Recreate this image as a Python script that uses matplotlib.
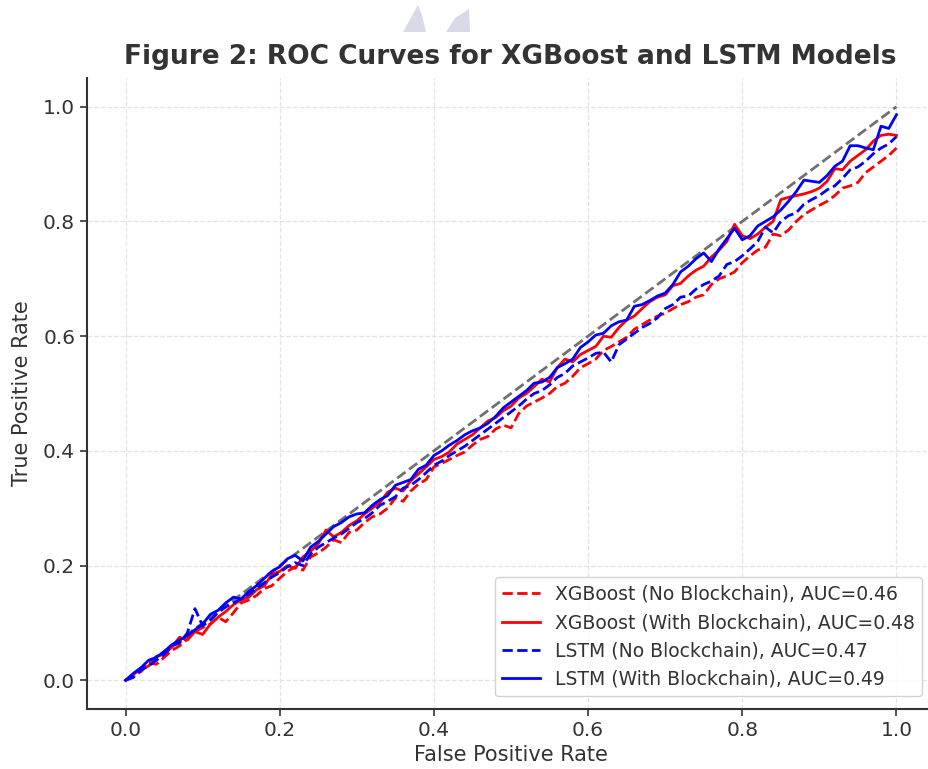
import numpy as np
import matplotlib
matplotlib.use("Agg")
import matplotlib.pyplot as plt
from matplotlib.patches import Polygon

# ---------------- data ----------------
fpr = np.round(np.linspace(0, 1, 101), 2)

xgb_no_bc = [
    0.000, 0.008, 0.015, 0.030, 0.028, 0.040, 0.052, 0.060, 0.072, 0.085,
    0.092, 0.098, 0.110, 0.102, 0.118, 0.135, 0.140, 0.148, 0.160, 0.165,
    0.178, 0.190, 0.198, 0.192, 0.215, 0.222, 0.232, 0.245, 0.240, 0.258,
    0.262, 0.275, 0.285, 0.290, 0.300, 0.318, 0.312, 0.330, 0.342, 0.350,
    0.372, 0.378, 0.385, 0.392, 0.398, 0.410, 0.420, 0.425, 0.438, 0.445,
    0.440, 0.465, 0.478, 0.485, 0.492, 0.500, 0.512, 0.518, 0.530, 0.545,
    0.552, 0.560, 0.575, 0.582, 0.590, 0.598, 0.612, 0.620, 0.628, 0.635,
    0.640, 0.648, 0.655, 0.660, 0.668, 0.672, 0.690, 0.700, 0.705, 0.712,
    0.728, 0.740, 0.750, 0.755, 0.778, 0.775, 0.785, 0.800, 0.812, 0.820,
    0.828, 0.835, 0.845, 0.858, 0.862, 0.868, 0.885, 0.895, 0.905, 0.915,
    0.928,
]
xgb_with_bc = [
    0.000, 0.010, 0.020, 0.025, 0.042, 0.045, 0.058, 0.075, 0.070, 0.085,
    0.080, 0.098, 0.110, 0.120, 0.132, 0.140, 0.145, 0.158, 0.165, 0.185,
    0.190, 0.200, 0.195, 0.215, 0.225, 0.238, 0.262, 0.250, 0.258, 0.270,
    0.278, 0.290, 0.300, 0.310, 0.328, 0.335, 0.330, 0.348, 0.360, 0.372,
    0.385, 0.390, 0.398, 0.412, 0.420, 0.428, 0.440, 0.452, 0.458, 0.470,
    0.478, 0.492, 0.500, 0.512, 0.525, 0.520, 0.545, 0.560, 0.555, 0.568,
    0.575, 0.582, 0.600, 0.598, 0.615, 0.628, 0.635, 0.648, 0.660, 0.668,
    0.672, 0.688, 0.692, 0.705, 0.715, 0.722, 0.738, 0.750, 0.765, 0.795,
    0.775, 0.770, 0.778, 0.790, 0.800, 0.838, 0.842, 0.845, 0.848, 0.852,
    0.858, 0.870, 0.892, 0.890, 0.905, 0.915, 0.925, 0.940, 0.950, 0.952,
    0.950,
]
lstm_no_bc = [
    0.000, 0.005, 0.018, 0.025, 0.035, 0.045, 0.060, 0.065, 0.082, 0.125,
    0.095, 0.105, 0.118, 0.128, 0.135, 0.142, 0.150, 0.160, 0.170, 0.180,
    0.188, 0.198, 0.205, 0.200, 0.220, 0.232, 0.240, 0.248, 0.255, 0.265,
    0.275, 0.282, 0.292, 0.305, 0.312, 0.320, 0.335, 0.340, 0.350, 0.362,
    0.375, 0.382, 0.392, 0.400, 0.408, 0.418, 0.428, 0.438, 0.448, 0.458,
    0.468, 0.478, 0.490, 0.500, 0.505, 0.515, 0.528, 0.535, 0.548, 0.555,
    0.562, 0.570, 0.572, 0.555, 0.585, 0.595, 0.605, 0.615, 0.622, 0.632,
    0.648, 0.655, 0.668, 0.670, 0.682, 0.690, 0.696, 0.705, 0.725, 0.730,
    0.740, 0.752, 0.765, 0.790, 0.780, 0.800, 0.810, 0.815, 0.830, 0.838,
    0.845, 0.855, 0.862, 0.875, 0.890, 0.895, 0.905, 0.918, 0.928, 0.935,
    0.948,
]
lstm_with_bc = [
    0.000, 0.012, 0.022, 0.035, 0.040, 0.050, 0.062, 0.070, 0.078, 0.088,
    0.098, 0.115, 0.122, 0.135, 0.145, 0.142, 0.155, 0.165, 0.178, 0.190,
    0.198, 0.212, 0.218, 0.208, 0.232, 0.242, 0.255, 0.268, 0.275, 0.285,
    0.290, 0.292, 0.305, 0.315, 0.322, 0.340, 0.345, 0.350, 0.368, 0.375,
    0.392, 0.400, 0.410, 0.418, 0.428, 0.435, 0.440, 0.448, 0.460, 0.475,
    0.485, 0.495, 0.505, 0.518, 0.520, 0.528, 0.545, 0.552, 0.560, 0.580,
    0.590, 0.602, 0.605, 0.618, 0.625, 0.628, 0.652, 0.655, 0.662, 0.670,
    0.675, 0.690, 0.712, 0.722, 0.735, 0.745, 0.730, 0.752, 0.770, 0.788,
    0.768, 0.775, 0.792, 0.800, 0.808, 0.820, 0.835, 0.852, 0.872, 0.870,
    0.868, 0.880, 0.896, 0.905, 0.932, 0.932, 0.928, 0.925, 0.966, 0.962,
    0.986,
]

series_labels = [
    "XGBoost (No Blockchain), AUC=0.46",
    "XGBoost (With Blockchain), AUC=0.48",
    "LSTM (No Blockchain), AUC=0.47",
    "LSTM (With Blockchain), AUC=0.49",
]
series_values = [xgb_no_bc, xgb_with_bc, lstm_no_bc, lstm_with_bc]
series_colors = ["red", "red", "blue", "blue"]
series_styles = ["--", "-", "--", "-"]

diag = [0.0, 1.0]
xticks = [0.0, 0.2, 0.4, 0.6, 0.8, 1.0]
yticks = [0.0, 0.2, 0.4, 0.6, 0.8, 1.0]

title = "Figure 2: ROC Curves for XGBoost and LSTM Models"
xlabel = "False Positive Rate"
ylabel = "True Positive Rate"

# ---------------- plot ----------------
TXT = "#333333"
plt.rcParams["font.family"] = ["DejaVu Sans"]

W, H = 929, 769
fig = plt.figure(figsize=(W / 100, H / 100), dpi=100)
ax = fig.add_axes([87 / W, 1 - 709 / H, 848 / W, 631 / H])

ax.plot(diag, diag, linestyle="--", color="#707070", lw=2.0, zorder=2)
for vals, lab, col, ls in zip(series_values, series_labels, series_colors, series_styles):
    ax.plot(fpr, vals, linestyle=ls, color=col, lw=2.0, label=lab, zorder=3)

ax.set_xlim(-0.05, 1.05)
ax.set_ylim(-0.05, 1.05)
ax.set_xticks(xticks)
ax.set_yticks(yticks)
ax.tick_params(labelsize=14.5, colors=TXT, length=5, width=1.2)
ax.grid(True, linestyle="--", color="#e3e3e3", linewidth=0.9)
ax.set_axisbelow(True)
for s in ["top", "right"]:
    ax.spines[s].set_visible(False)
for s in ["left", "bottom"]:
    ax.spines[s].set_color(TXT)
    ax.spines[s].set_linewidth(1.5)

ax.set_xlabel(xlabel, fontsize=15, color=TXT, labelpad=4)
ax.set_ylabel(ylabel, fontsize=15, color=TXT, labelpad=8)
fig.text(510 / W, 1 - 57 / H, title, fontsize=19, fontweight="bold",
         color=TXT, ha="center", va="center")

leg = ax.legend(loc="lower right", fontsize=13.5, frameon=True, framealpha=0.85,
                edgecolor="#cccccc", fancybox=True, borderpad=0.4,
                handlelength=2.0, bbox_to_anchor=(0.996, 0.005))
for t in leg.get_texts():
    t.set_color(TXT)

# faint watermark shapes at the top
wm = "#d9d9e8"
p1 = Polygon([(403 / W, 1 - 32 / H), (418 / W, 1 - 5 / H), (422 / W, 1 - 15 / H),
              (426 / W, 1 - 32 / H)], closed=True, transform=fig.transFigure,
             facecolor=wm, edgecolor="none")
p2 = Polygon([(446 / W, 1 - 32 / H), (455 / W, 1 - 18 / H), (469 / W, 1 - 9 / H),
              (470 / W, 1 - 32 / H)], closed=True, transform=fig.transFigure,
             facecolor=wm, edgecolor="none")
fig.patches.extend([p1, p2])

fig.savefig("out.png", dpi=100)
